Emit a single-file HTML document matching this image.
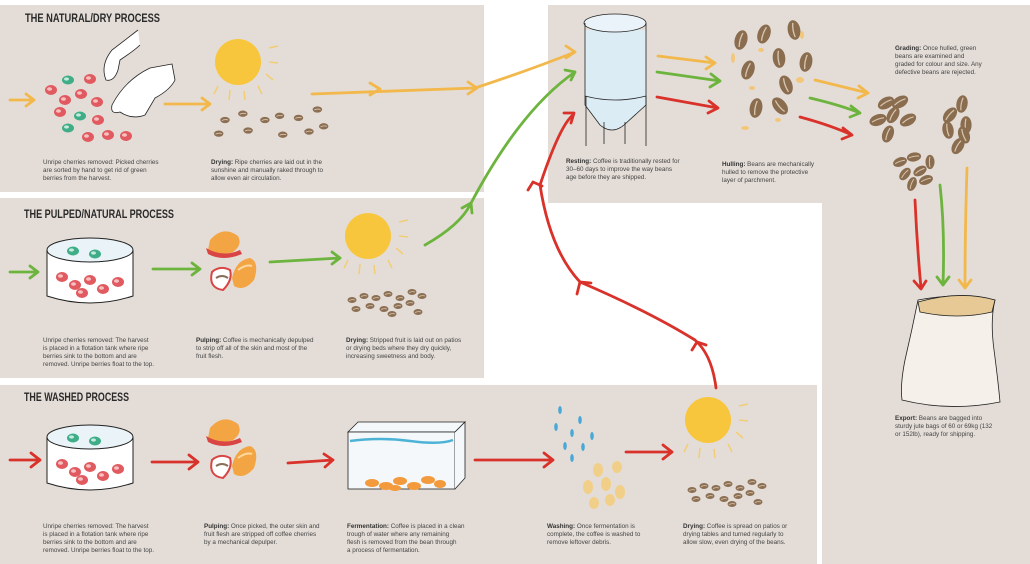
<!DOCTYPE html>
<html><head><meta charset="utf-8"><style>
html,body{margin:0;padding:0;background:#fff}
svg{display:block}
text{font-family:"Liberation Sans",sans-serif;fill:#444;font-size:6.3px}
.h{font-weight:bold;fill:#2a2a2a;font-size:12px}
.b{font-weight:bold;fill:#333}
</style></head><body>
<svg width="1030" height="564" viewBox="0 0 1030 564" xmlns="http://www.w3.org/2000/svg">
<defs>
<g id="bean"><ellipse cx="0" cy="0" rx="4.5" ry="3" fill="#8c6e52"/><path d="M-3 0.5 Q0 -1 3 0" stroke="#d9c9b4" stroke-width="0.8" fill="none"/></g>
<g id="bigbean"><ellipse cx="0" cy="0" rx="7" ry="11" fill="#8a6c4f"/><path d="M0 -8 Q-2 0 0 8" stroke="#d8c7b0" stroke-width="1.5" fill="none"/></g>
<g id="rb"><ellipse rx="6" ry="5" fill="#e05a60"/><ellipse cx="-1.5" cy="-1" rx="2.5" ry="1.8" fill="#f6c0c0"/></g>
<g id="gb"><ellipse rx="6" ry="4.5" fill="#3fae88"/><ellipse cx="-1.5" cy="-1" rx="2.5" ry="1.6" fill="#c5ebdc"/></g>
<g id="sun"><circle r="23" fill="#f8c63c"/><g stroke="#f3cd73" stroke-width="1.5"><path d="M31 -14 L40 -16"/><path d="M31 0 L40 1"/><path d="M28 12 L35 18"/><path d="M20 24 L24 32"/><path d="M6 29 L7 38"/><path d="M-8 28 L-9 38"/><path d="M-20 24 L-24 32"/></g></g>
<g id="tank"><path d="M-43 -18 L-43 28 Q0 42 43 28 L43 -18" fill="#fff" stroke="#222" stroke-width="1"/><ellipse rx="43" ry="12" cy="-18" fill="#eaf4f8" stroke="#222" stroke-width="1"/><use href="#gb" x="-17" y="-17"/><use href="#gb" x="5" y="-14"/><use href="#rb" x="-28" y="9"/><use href="#rb" x="-15" y="17"/><use href="#rb" x="-8" y="25"/><use href="#rb" x="0" y="12"/><use href="#rb" x="13" y="21"/><use href="#rb" x="28" y="14"/></g>
<g id="pulp"><path d="M-18 -10 Q-5 -25 10 -14 Q15 -5 5 2 Q-10 8 -20 0Z" fill="#f3a543"/><path d="M-22 -2 Q-5 8 12 0 L14 4 Q-5 12 -20 4Z" fill="#d94545"/><path d="M-16 22 Q-20 38 -5 40 Q5 30 2 20 Q-8 15 -16 22Z" fill="#fff" stroke="#d94545" stroke-width="2"/><path d="M-12 28 Q-6 24 0 28" stroke="#8a6e5a" stroke-width="2" fill="none"/><path d="M4 28 Q8 10 22 8 Q32 12 26 30 Q16 42 6 36Z" fill="#f3a543"/><path d="M10 20 Q18 14 24 16" stroke="#fbd9a0" stroke-width="2" fill="none"/></g>
<g id="dry"><use href="#bean" x="0" y="0"/><use href="#bean" x="12" y="-4"/><use href="#bean" x="24" y="-2"/><use href="#bean" x="36" y="-6"/><use href="#bean" x="48" y="-2"/><use href="#bean" x="60" y="-8"/><use href="#bean" x="4" y="9"/><use href="#bean" x="18" y="6"/><use href="#bean" x="32" y="9"/><use href="#bean" x="46" y="6"/><use href="#bean" x="58" y="3"/><use href="#bean" x="70" y="-4"/><use href="#bean" x="40" y="14"/><use href="#bean" x="66" y="12"/></g>
</defs>

<rect x="0" y="5" width="484" height="187" fill="#e4ddd7"/>
<rect x="0" y="198" width="484" height="180" fill="#e4ddd7"/>
<rect x="0" y="385" width="817" height="179" fill="#e4ddd7"/>
<rect x="548" y="5" width="482" height="198" fill="#e4ddd7"/>
<rect x="822" y="5" width="208" height="559" fill="#e4ddd7"/>

<text x="25" y="22" class="h" textLength="135" lengthAdjust="spacingAndGlyphs">THE NATURAL/DRY PROCESS</text>
<text x="24" y="218" class="h" textLength="150" lengthAdjust="spacingAndGlyphs">THE PULPED/NATURAL PROCESS</text>
<text x="24" y="401" class="h" textLength="105" lengthAdjust="spacingAndGlyphs">THE WASHED PROCESS</text>

<g>
<use href="#gb" x="68" y="80"/><use href="#rb" x="90" y="79"/><use href="#rb" x="51" y="90"/><use href="#rb" x="65" y="100"/><use href="#rb" x="81" y="94"/><use href="#rb" x="97" y="102"/><use href="#gb" x="80" y="116"/><use href="#rb" x="98" y="120"/><use href="#gb" x="68" y="128"/><use href="#rb" x="88" y="137"/><use href="#rb" x="108" y="135"/><use href="#rb" x="126" y="136"/><use href="#rb" x="60" y="112"/>
<path d="M138 30 L112 50 Q100 65 106 80 Q114 82 118 70 L120 60 Q135 50 140 45" fill="#fff" stroke="#222" stroke-width="0.8"/>
<path d="M172 64 L150 68 Q125 80 112 105 Q110 115 120 112 Q132 120 145 115 L155 98 Q170 90 175 80Z" fill="#fff" stroke="#222" stroke-width="0.8"/>
<use href="#sun" x="238" y="62"/>
<g transform="translate(225,120) scale(1.05)"><use href="#bean" x="0" y="0"/><use href="#bean" x="17" y="-6"/><use href="#bean" x="38" y="0"/><use href="#bean" x="52" y="-4"/><use href="#bean" x="70" y="-2"/><use href="#bean" x="88" y="-10"/><use href="#bean" x="-6" y="13"/><use href="#bean" x="22" y="10"/><use href="#bean" x="55" y="14"/><use href="#bean" x="80" y="11"/><use href="#bean" x="94" y="6"/></g>
<text x="43" y="164">Unripe cherries removed: Picked cherries</text>
<text x="43" y="172">are sorted by hand to get rid of green</text>
<text x="43" y="180">berries from the harvest.</text>
<text x="211" y="164"><tspan class="b">Drying:</tspan> Ripe cherries are laid out in the</text>
<text x="211" y="172">sunshine and manually raked through to</text>
<text x="211" y="180">allow even air circulation.</text>
</g>

<use href="#tank" x="90" y="268"/>
<use href="#pulp" x="228" y="250"/>
<use href="#sun" x="368" y="236"/>
<use href="#dry" x="352" y="300"/>
<text x="43" y="342">Unripe cherries removed: The harvest</text>
<text x="43" y="350">is placed in a flotation tank where ripe</text>
<text x="43" y="358">berries sink to the bottom and are</text>
<text x="43" y="366">removed. Unripe berries float to the top.</text>
<text x="196" y="342"><tspan class="b">Pulping:</tspan> Coffee is mechanically depulped</text>
<text x="196" y="350">to strip off all of the skin and most of the</text>
<text x="196" y="358">fruit flesh.</text>
<text x="346" y="342"><tspan class="b">Drying:</tspan> Stripped fruit is laid out on patios</text>
<text x="346" y="350">or drying beds where they dry quickly,</text>
<text x="346" y="358">increasing sweetness and body.</text>

<use href="#tank" x="90" y="455"/>
<use href="#pulp" x="228" y="438"/>
<g stroke="#222" stroke-width="0.8" fill="#f4f8fa"><path d="M348 432 L358 422 L465 422 L455 432Z"/><rect x="348" y="432" width="107" height="57"/><path d="M455 432 L465 422 L465 478 L455 489"/></g>
<path d="M350 441 Q380 437 410 441 T453 440" stroke="#4db3d6" stroke-width="2.5" fill="none"/>
<g fill="#f39a3c"><ellipse cx="372" cy="483" rx="7" ry="4"/><ellipse cx="386" cy="486" rx="7" ry="4"/><ellipse cx="400" cy="481" rx="7" ry="4"/><ellipse cx="414" cy="486" rx="7" ry="4"/><ellipse cx="428" cy="480" rx="7" ry="4"/><ellipse cx="440" cy="484" rx="6" ry="4"/><ellipse cx="395" cy="488" rx="6" ry="3"/></g>
<g fill="#4aa8d6"><ellipse cx="560" cy="410" rx="1.8" ry="4"/><ellipse cx="580" cy="420" rx="1.8" ry="4"/><ellipse cx="556" cy="427" rx="1.8" ry="4"/><ellipse cx="572" cy="433" rx="1.8" ry="4"/><ellipse cx="592" cy="436" rx="1.8" ry="4"/><ellipse cx="565" cy="446" rx="1.8" ry="4"/><ellipse cx="583" cy="447" rx="1.8" ry="4"/><ellipse cx="572" cy="458" rx="1.8" ry="4"/></g>
<g fill="#f2cf88"><ellipse cx="598" cy="470" rx="5" ry="7"/><ellipse cx="617" cy="467" rx="5" ry="6"/><ellipse cx="588" cy="487" rx="5" ry="7"/><ellipse cx="606" cy="484" rx="5" ry="7"/><ellipse cx="620" cy="492" rx="5" ry="7"/><ellipse cx="594" cy="503" rx="5" ry="6"/><ellipse cx="610" cy="500" rx="5" ry="6"/></g>
<use href="#sun" x="708" y="420"/>
<use href="#dry" x="692" y="490"/>
<text x="43" y="528">Unripe cherries removed: The harvest</text>
<text x="43" y="536">is placed in a flotation tank where ripe</text>
<text x="43" y="544">berries sink to the bottom and are</text>
<text x="43" y="552">removed. Unripe berries float to the top.</text>
<text x="204" y="528"><tspan class="b">Pulping:</tspan> Once picked, the outer skin and</text>
<text x="204" y="536">fruit flesh are stripped off coffee cherries</text>
<text x="204" y="544">by a mechanical depulper.</text>
<text x="347" y="528"><tspan class="b">Fermentation:</tspan> Coffee is placed in a clean</text>
<text x="347" y="536">trough of water where any remaining</text>
<text x="347" y="544">flesh is removed from the bean through</text>
<text x="347" y="552">a process of fermentation.</text>
<text x="547" y="528"><tspan class="b">Washing:</tspan> Once fermentation is</text>
<text x="547" y="536">complete, the coffee is washed to</text>
<text x="547" y="544">remove leftover debris.</text>
<text x="683" y="528"><tspan class="b">Drying:</tspan> Coffee is spread on patios or</text>
<text x="683" y="536">drying tables and turned regularly to</text>
<text x="683" y="544">allow slow, even drying of the beans.</text>

<g stroke="#222" stroke-width="0.8"><path d="M585 30 L585 105 L600 125 Q612 135 624 125 L646 105 L646 30" fill="#dcecf5"/><ellipse cx="615" cy="23" rx="31" ry="9" fill="#e9f3f9"/><path d="M585 23 L585 30 M646 23 L646 30"/><path d="M586 96 L586 146 M646 96 L646 146 M604 122 L604 144 M625 122 L625 144" fill="none"/></g>
<path d="M585 96 Q615 104 646 96" stroke="#222" stroke-width="0.8" fill="none"/>
<text x="566" y="163"><tspan class="b">Resting:</tspan> Coffee is traditionally rested for</text>
<text x="566" y="171">30–60 days to improve the way beans</text>
<text x="566" y="179">age before they are shipped.</text>

<g><use href="#bigbean" transform="translate(741,40) rotate(15) scale(0.9)"/><use href="#bigbean" transform="translate(764,34) rotate(20) scale(0.9)"/><use href="#bigbean" transform="translate(794,30) rotate(-10) scale(0.9)"/><use href="#bigbean" transform="translate(779,58) rotate(-5) scale(0.9)"/><use href="#bigbean" transform="translate(806,62) rotate(10) scale(0.9)"/><use href="#bigbean" transform="translate(748,70) rotate(20) scale(0.9)"/><use href="#bigbean" transform="translate(786,85) rotate(-20) scale(0.9)"/><use href="#bigbean" transform="translate(756,108) rotate(10) scale(0.9)"/><use href="#bigbean" transform="translate(780,106) rotate(-40) scale(0.9)"/></g>
<g fill="#f3c77a"><ellipse cx="733" cy="58" rx="2" ry="5"/><ellipse cx="761" cy="50" rx="3" ry="2"/><ellipse cx="800" cy="80" rx="4" ry="3"/><ellipse cx="752" cy="88" rx="3" ry="2"/><ellipse cx="802" cy="35" rx="2" ry="4"/><ellipse cx="745" cy="128" rx="4" ry="2"/><ellipse cx="778" cy="120" rx="3" ry="2"/></g>
<text x="722" y="166"><tspan class="b">Hulling:</tspan> Beans are mechanically</text>
<text x="722" y="174">hulled to remove the protective</text>
<text x="722" y="182">layer of parchment.</text>

<text x="895" y="50"><tspan class="b">Grading:</tspan> Once hulled, green</text>
<text x="895" y="58">beans are examined and</text>
<text x="895" y="66">graded for colour and size. Any</text>
<text x="895" y="74">defective beans are rejected.</text>
<g><use href="#bigbean" transform="translate(886,103) rotate(60) scale(0.8)"/><use href="#bigbean" transform="translate(900,102) rotate(60) scale(0.8)"/><use href="#bigbean" transform="translate(878,120) rotate(70) scale(0.8)"/><use href="#bigbean" transform="translate(893,115) rotate(30) scale(0.8)"/><use href="#bigbean" transform="translate(908,120) rotate(60) scale(0.8)"/><use href="#bigbean" transform="translate(888,134) rotate(20) scale(0.8)"/>
<use href="#bigbean" transform="translate(962,104) rotate(10) scale(0.8)"/><use href="#bigbean" transform="translate(950,115) rotate(40) scale(0.8)"/><use href="#bigbean" transform="translate(966,125) rotate(0) scale(0.8)"/><use href="#bigbean" transform="translate(948,130) rotate(-10) scale(0.8)"/><use href="#bigbean" transform="translate(958,146) rotate(30) scale(0.8)"/><use href="#bigbean" transform="translate(964,135) rotate(-20) scale(0.8)"/>
<use href="#bigbean" transform="translate(900,162) rotate(70) scale(0.65)"/><use href="#bigbean" transform="translate(914,157) rotate(80) scale(0.65)"/><use href="#bigbean" transform="translate(905,174) rotate(40) scale(0.65)"/><use href="#bigbean" transform="translate(920,171) rotate(60) scale(0.65)"/><use href="#bigbean" transform="translate(930,162) rotate(0) scale(0.65)"/><use href="#bigbean" transform="translate(912,184) rotate(20) scale(0.65)"/><use href="#bigbean" transform="translate(926,180) rotate(70) scale(0.65)"/></g>

<path d="M918 300 Q912 330 905 360 Q900 385 902 400 Q950 412 1000 402 Q998 380 994 350 Q990 320 995 300 Q960 292 918 300Z" fill="#f5f1ea" stroke="#222" stroke-width="0.8"/>
<path d="M918 302 Q960 290 995 300 L992 312 Q958 320 920 312Z" fill="#e6c994" stroke="#222" stroke-width="0.8"/>
<text x="895" y="420"><tspan class="b">Export:</tspan> Beans are bagged into</text>
<text x="895" y="428">sturdy jute bags of 60 or 69kg (132</text>
<text x="895" y="436">or 152lb), ready for shipping.</text>

<g fill="none" stroke-width="2.8" stroke-linecap="round" stroke-linejoin="round">
<g stroke="#f2b84b">
<path d="M10 100 L34 100 M26 94 L34 100 L26 106"/>
<path d="M165 104 L210 104 M202 98 L210 104 L202 110"/>
<path d="M312 94 L475 88 M370 83 L380 89 L370 95 M468 82 L477 88 L468 94"/>
<path d="M475 88 Q530 70 575 52 M566 46 L575 52 L566 58"/>
<path d="M658 56 L715 63 M706 57 L715 63 L706 69"/>
<path d="M815 80 L868 93 M859 86 L868 93 L858 98"/>
<path d="M967 168 Q965 230 965 288 M959 280 L965 288 L971 280"/>
</g>
<g stroke="#6db43e">
<path d="M10 272 L38 272 M30 266 L38 272 L30 278"/>
<path d="M153 269 L200 269 M192 263 L200 269 L192 275"/>
<path d="M270 262 L340 258 M332 252 L340 258 L332 264"/>
<path d="M425 245 Q460 225 470 205 M462 208 L471 203 L472 213"/>
<path d="M470 205 Q520 110 575 72 M565 70 L575 72 L571 80"/>
<path d="M657 72 L720 81 M711 74 L720 81 L710 87"/>
<path d="M810 98 Q840 105 860 113 M851 106 L860 113 L850 117"/>
<path d="M940 185 Q945 230 943 285 M937 277 L943 285 L949 277"/>
</g>
<g stroke="#d9322a">
<path d="M10 460 L40 460 M31 453 L40 460 L31 467"/>
<path d="M152 462 L198 462 M189 455 L198 462 L189 469"/>
<path d="M288 463 L333 460 M324 454 L333 460 L325 467"/>
<path d="M475 460 L553 460 M544 453 L553 460 L544 467"/>
<path d="M626 452 L672 452 M663 445 L672 452 L663 459"/>
<path d="M716 388 Q712 355 695 340 Q650 312 580 282 Q550 250 540 185 Q560 125 573 115"/>
<path d="M692 350 L697 342 L706 345 M577 294 L580 282 L591 283 M528 190 L533 182 L542 186 M564 113 L574 113 L571 123"/>
<path d="M657 97 L718 108 M709 101 L718 108 L708 113"/>
<path d="M800 117 Q830 125 852 135 M843 128 L852 135 L842 139"/>
<path d="M915 200 Q917 245 921 288 M914 281 L921 289 L926 281"/>
</g>
</g>
</svg>
</body></html>
